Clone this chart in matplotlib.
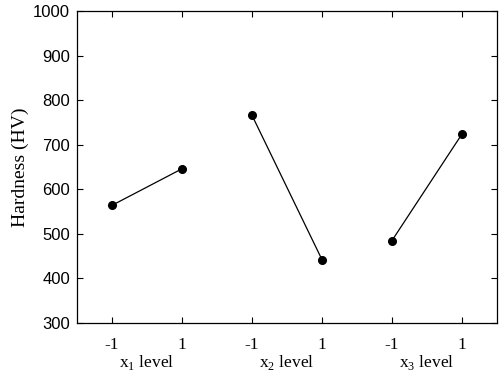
import numpy as np
import matplotlib.pyplot as plt

# main effects of each factor on hardness
factors = ["x$_\\mathregular{1}$ level", "x$_\\mathregular{2}$ level", "x$_\\mathregular{3}$ level"]
levels = ["-1", "1"]
hardness = {
    "x1": [564, 646],
    "x2": [766, 442],
    "x3": [485, 724],
}

plt.rcParams["font.family"] = ["Liberation Serif", "DejaVu Serif"]
plt.rcParams["mathtext.fontset"] = "custom"
plt.rcParams["mathtext.rm"] = "Liberation Serif"

fig = plt.figure(figsize=(5.02, 3.80), dpi=100)
ax = fig.add_axes([77 / 502, 1 - 323 / 380, 420 / 502, 312 / 380])

for i, key in enumerate(hardness):
    xs = [2 * i + 0.5, 2 * i + 1.5]
    ax.plot(xs, hardness[key], color="black", lw=0.9, marker="o",
            markersize=5.5, markerfacecolor="black")

ax.set_xlim(0, 6)
ax.set_ylim(300, 1000)
ax.set_xticks(np.arange(6) + 0.5)
ax.set_xticklabels(levels * 3, fontsize=12.5)
ax.set_yticks(np.arange(300, 1001, 100))
for lab in ax.get_yticklabels():
    lab.set_family("Liberation Sans")
    lab.set_fontsize(12)
ax.tick_params(direction="in", top=True, right=True, length=4, width=0.8)
ax.tick_params(axis="x", pad=10)
ax.tick_params(axis="y", pad=5)
for s in ax.spines.values():
    s.set_linewidth(0.9)

for i, f in enumerate(factors):
    ax.text(2 * i + 1, -0.128, f, transform=ax.get_xaxis_transform(),
            ha="center", va="center", fontsize=12.5)

ax.set_ylabel("Hardness (HV)", fontsize=14, labelpad=3)

fig.savefig("out.png", dpi=100)
